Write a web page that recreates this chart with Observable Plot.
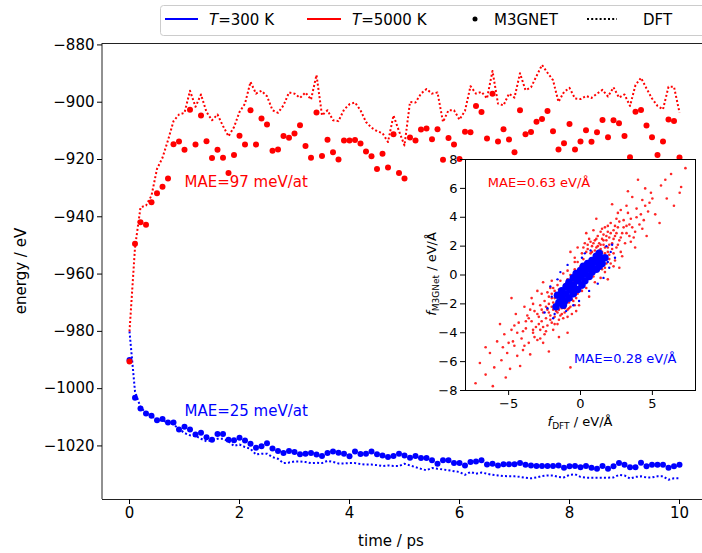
<!DOCTYPE html>
<html><head><meta charset="utf-8">
<script src="https://cdn.jsdelivr.net/npm/d3@7"></script>
<script src="https://cdn.jsdelivr.net/npm/@observablehq/plot@0.6"></script>
<style>
body{margin:0;background:#fff;overflow:hidden;}
#wrap{position:relative;width:702px;height:553px;font-family:"DejaVu Sans",sans-serif;overflow:hidden;}
#wrap svg{position:absolute;overflow:visible;}
</style></head><body><div id="wrap"></div>
<script>
// ---------- data ----------
const time = [0,0.1,0.2,0.3,0.4,0.5,0.6,0.7,0.8,0.9,1,1.1,1.2,1.3,1.4,1.5,1.6,1.7,1.8,1.9,2,2.1,2.2,2.3,2.4,2.5,2.6,2.7,2.8,2.9,3,3.1,3.2,3.3,3.4,3.5,3.6,3.7,3.8,3.9,4,4.1,4.2,4.3,4.4,4.5,4.6,4.7,4.8,4.9,5,5.1,5.2,5.3,5.4,5.5,5.6,5.7,5.8,5.9,6,6.1,6.2,6.3,6.4,6.5,6.6,6.7,6.8,6.9,7,7.1,7.2,7.3,7.4,7.5,7.6,7.7,7.8,7.9,8,8.1,8.2,8.3,8.4,8.5,8.6,8.7,8.8,8.9,9,9.1,9.2,9.3,9.4,9.5,9.6,9.7,9.8,9.9,10];

const m3gnet5000 = [-990.5,-949.4,-941.9,-942.8,-934.9,-931.8,-929.5,-926.6,-914.7,-913.7,-916.6,-902.6,-914.8,-904.6,-913.6,-919.5,-916.6,-919.4,-924.7,-918.4,-911.7,-914.8,-902.8,-914.8,-905.7,-907.8,-916.9,-916.5,-911.8,-912.4,-910.9,-908.0,-915.3,-919.4,-903.6,-918.8,-913.1,-917.5,-920.0,-913.4,-913.4,-913.2,-914.4,-917.2,-918.9,-923.3,-918.0,-922.8,-911.2,-924.7,-926.6,-912.3,-913.4,-909.5,-909.2,-912.9,-909.4,-920.1,-912.5,-914.8,-919.8,-910.3,-910.5,-901.3,-903.4,-912.7,-897.0,-913.7,-909.4,-913.0,-917.5,-902.8,-911.2,-910.4,-906.8,-905.9,-903.1,-910.1,-916.5,-914.3,-907.6,-916.5,-913.7,-909.8,-913.8,-910.5,-906.2,-912.2,-906.3,-907.3,-911.8,-919.2,-903.3,-902.7,-908.1,-912.2,-918.4,-913.7,-906.0,-906.6,-919.3];

const dft5000 = [-980.0,-950.8,-936.7,-936.1,-932.6,-923.3,-919.4,-913.3,-906.6,-904.3,-903.7,-896.0,-901.6,-897.3,-903.4,-906.3,-904.3,-908.3,-911.9,-908.7,-903.4,-900.5,-892.9,-897.0,-896.0,-897.9,-902.8,-903.7,-901.1,-896.6,-897.0,-898.5,-896.6,-899.1,-890.5,-904.6,-902.8,-906.3,-906.6,-902.6,-900.7,-900.1,-902.8,-906.9,-908.9,-910.1,-910.8,-913.9,-904.6,-910.1,-915.1,-899.9,-900.1,-897.0,-895.4,-897.0,-896.6,-906.9,-902.8,-902.8,-906.1,-903.0,-894.4,-897.0,-896.4,-898.7,-889.1,-900.5,-901.1,-897.0,-898.4,-889.9,-895.8,-894.8,-890.9,-887.0,-889.7,-892.3,-899.9,-896.4,-895.0,-898.7,-898.9,-897.8,-898.5,-897.0,-895.7,-898.0,-894.8,-898.4,-897.3,-901.3,-894.0,-891.5,-895.2,-898.7,-901.3,-902.5,-894.6,-894.6,-903.6];

const m3gnet300 = [-990.0,-1003.2,-1006.9,-1008.7,-1009.5,-1011.0,-1010.6,-1011.8,-1011.8,-1014.3,-1013.3,-1014.3,-1016.0,-1015.4,-1017.0,-1017.8,-1015.8,-1015.8,-1017.8,-1018.0,-1017.1,-1018.1,-1019.2,-1020.6,-1020.1,-1019.1,-1020.9,-1021.8,-1022.5,-1021.8,-1022.1,-1022.9,-1022.7,-1022.5,-1023.0,-1023.5,-1022.5,-1021.9,-1022.4,-1022.7,-1023.6,-1021.9,-1022.8,-1022.7,-1021.9,-1022.9,-1023.3,-1023.9,-1023.5,-1022.7,-1023.3,-1024.1,-1023.5,-1024.2,-1024.2,-1025.0,-1026.2,-1025.0,-1025.0,-1026.0,-1026.0,-1026.8,-1025.6,-1025.4,-1025.0,-1026.5,-1026.2,-1026.8,-1026.4,-1026.4,-1026.4,-1026.0,-1026.6,-1026.8,-1027.0,-1027.0,-1027.0,-1027.0,-1026.8,-1027.6,-1027.1,-1027.0,-1027.4,-1027.0,-1027.6,-1028.0,-1027.0,-1028.0,-1027.1,-1026.0,-1026.6,-1027.4,-1027.4,-1025.9,-1027.1,-1026.6,-1026.6,-1026.6,-1027.6,-1027.1,-1026.6];

const dft300 = [-980.0,-1001.0,-1006.5,-1008.5,-1009.5,-1011.0,-1011.0,-1012.0,-1012.5,-1014.0,-1015.5,-1016.3,-1016.5,-1017.5,-1018.4,-1018.0,-1017.5,-1017.5,-1018.4,-1020.0,-1019.5,-1020.4,-1021.0,-1023.0,-1022.7,-1022.7,-1023.9,-1024.5,-1026.0,-1025.8,-1025.4,-1025.4,-1025.6,-1026.0,-1025.9,-1026.0,-1025.2,-1025.6,-1026.1,-1026.1,-1026.0,-1026.0,-1026.3,-1026.5,-1026.5,-1026.7,-1027.0,-1026.8,-1027.0,-1027.0,-1026.2,-1026.8,-1027.4,-1028.0,-1028.5,-1027.7,-1028.0,-1028.2,-1028.5,-1028.8,-1029.1,-1030.1,-1029.1,-1029.7,-1029.3,-1029.7,-1030.1,-1030.3,-1030.5,-1030.6,-1030.6,-1030.8,-1031.1,-1031.3,-1031.0,-1030.5,-1030.3,-1030.3,-1030.8,-1031.0,-1030.1,-1029.9,-1030.8,-1031.1,-1031.1,-1031.1,-1031.1,-1031.1,-1031.0,-1030.1,-1030.3,-1031.4,-1030.8,-1030.6,-1031.0,-1031.0,-1030.6,-1030.6,-1031.8,-1031.3,-1031.3];

// force parity (f_DFT, f_M3GNet), eV/Å
const forces5000 = [[7.3,7.4],[6.9,5.7],[6.3,7.0],[6.0,5.3],[5.6,6.2],[5.2,4.2],[4.9,5.7],[4.7,4.4],[4.5,6.0],[4.3,5.2],[4.1,3.5],[3.9,4.6],[3.8,3.0],[3.6,5.4],[3.5,3.9],[3.4,2.7],[3.3,4.3],[3.2,3.4],[3.1,2.2],[3.0,3.8],[2.9,2.9],[2.8,4.5],[2.7,2.4],[2.6,3.3],[2.5,1.9],[2.5,3.9],[2.4,2.7],[2.3,3.1],[2.3,1.5],[2.2,2.2],[2.1,3.6],[2.0,2.6],[2.0,1.1],[1.9,3.0],[1.9,1.9],[1.8,2.4],[1.8,0.8],[1.7,3.3],[1.7,1.5],[1.6,2.1],[1.6,2.8],[1.5,1.2],[1.5,2.5],[1.4,1.8],[1.4,3.0],[1.3,2.2],[1.2,1.6],[1.2,2.7],[1.1,1.9],[1.0,2.4],[1.0,1.3],[0.9,3.1],[0.8,2.0],[0.7,1.5],[0.6,2.5],[0.5,1.8],[0.3,2.2],[0.1,1.5],[-0.2,1.9],[-0.4,1.2],[4.6,2.7],[3.8,1.9],[2.9,1.3],[5.5,3.6],[6.5,4.8],[2.2,4.9],[1.1,3.9],[0.4,2.9],[-0.7,1.6],[2.7,0.5],[3.3,5.8],[5.9,6.6],[7.0,6.1],[4.0,6.6],
[-7.3,-7.5],[-7.0,-6.1],[-6.6,-6.9],[-6.3,-5.4],[-6.0,-6.4],[-5.8,-4.6],[-5.5,-5.9],[-5.3,-4.1],[-5.1,-5.4],[-4.9,-6.5],[-4.8,-3.8],[-4.6,-4.9],[-4.4,-5.6],[-4.3,-3.3],[-4.1,-4.4],[-4.0,-5.2],[-3.8,-3.7],[-3.7,-2.8],[-3.6,-4.7],[-3.4,-3.2],[-3.3,-4.0],[-3.2,-2.5],[-3.1,-3.6],[-3.0,-4.5],[-2.9,-2.9],[-2.8,-2.1],[-2.8,-3.8],[-2.7,-3.2],[-2.6,-2.6],[-2.5,-4.1],[-2.5,-1.8],[-2.4,-3.0],[-2.3,-2.4],[-2.3,-3.5],[-2.2,-2.0],[-2.1,-2.8],[-2.0,-3.3],[-2.0,-1.6],[-1.9,-2.4],[-1.9,-3.8],[-1.8,-2.9],[-1.7,-2.1],[-1.7,-1.3],[-1.6,-2.6],[-1.6,-3.4],[-1.5,-1.9],[-1.4,-2.8],[-1.3,-2.3],[-1.2,-3.0],[-1.1,-2.6],[-1.0,-2.0],[-0.9,-2.9],[-0.8,-2.3],[-0.6,-2.7],[-0.4,-2.1],[-3.9,-2.2],[-4.5,-2.7],[-3.4,-1.6],[-2.6,-4.7],[-1.5,-4.3],[-0.9,-4.0],[-5.6,-3.4],[-6.6,-5.0],[-4.2,-6.3],[-3.5,-5.5],[-2.2,-5.3],[-0.7,-6.4],[-5.2,-7.1],[-6.1,-7.7],[-3.0,-1.1],[-2.1,-0.9],[-4.8,-1.6],
[0.0,0.6],[-0.5,-0.5],[0.8,0.2],[-0.9,0.3],[0.4,-0.9],[1.2,0.5],[-1.4,-0.4],[0.2,1.1],[-0.2,-1.3],[1.7,0.2],[-1.9,-0.9],[1.0,-0.5],[-0.6,-1.7],[1.4,-0.2],[-2.3,-1.2],[2.1,0.8],[-0.4,0.9],[0.6,-1.5],[-1.2,0.1],[0.9,1.0],[-1.1,-1.2],[1.9,-0.3],[-2.6,-0.5],[2.4,1.0],[-0.3,-2.5],
[-3.5,-2.4],[-3.3,-3.8],[-3.0,-2.7],[-2.9,-3.4],[-2.7,-2.4],[-2.6,-3.6],[-2.4,-2.2],[-2.4,-3.9],[-2.2,-2.6],[-2.2,-1.5],[-2.1,-3.1],[-2.0,-2.2],[-1.9,-1.9],[-1.8,-3.4],[-1.8,-1.6],[-1.7,-2.5],[-1.6,-1.8],[-1.5,-2.4],[-1.5,-3.1],[-1.4,-1.6],[-1.3,-2.7],[-1.2,-1.9],[-1.1,-2.3],[-1.0,-1.6],[-0.9,-2.4],[-0.8,-1.9],[-0.7,-2.2],[-0.5,-1.8],[-0.3,-1.6],[-0.1,-2.1],[-2.0,-0.4],[-2.7,-1.3],[-1.6,-0.7],[-3.3,-2.0],[-3.8,-3.2],[-4.0,-3.9],[-4.4,-4.0],[-4.7,-4.6],[-5.0,-4.7],[-5.4,-5.0],[-3.9,-4.9],[-3.2,-4.3],[-2.8,-4.4],[-4.6,-3.5],[-3.6,-3.0],
[3.4,3.5],[3.2,2.9],[3.0,3.3],[2.8,2.6],[2.7,3.7],[2.6,2.1],[2.5,2.9],[2.4,3.4],[2.3,2.5],[2.2,1.8],[2.1,2.9],[2.0,2.1],[1.9,1.6],[1.9,3.4],[1.8,2.7],[1.7,1.9],[1.6,2.4],[1.5,1.6],[1.5,3.2],[1.4,2.1],[1.3,1.7],[1.2,2.0],[1.1,2.5],[1.0,1.7],[0.9,2.2],[0.8,1.6],[0.7,2.3],[0.5,2.1],[0.4,1.6],[0.2,1.9],[2.3,0.6],[2.8,1.6],[1.7,0.5],[3.5,2.3],[3.6,3.3],[3.9,4.0],[4.2,4.2],[4.5,4.8],[4.8,5.0],[5.0,5.3],[3.7,2.6],[4.3,3.2],[3.2,4.8],[2.6,4.3],[4.4,3.8],
[-0.2,0.9],[0.3,-0.5],[-0.7,0.0],[0.6,0.7],[-1.0,-0.6],[1.3,0.9],[-1.5,-1.0],[1.5,0.4],[0.1,-1.1],[-0.4,0.4],[2.0,1.4],[-2.0,-1.3],[0.9,-0.1],[-0.9,-0.3],[1.8,1.1],[-1.8,-1.1]];

const forces300Core = [[-1.5,-1.9],[-1.3,-1.5],[-1.1,-1.8],[-1.3,-1.1],[-1.0,-1.3],[-0.8,-1.6],[-1.0,-0.8],[-0.7,-1.0],[-0.5,-1.3],[-0.8,-0.5],[-0.5,-0.7],[-0.2,-1.0],[-0.5,-0.2],[-0.2,-0.4],[0.1,-0.7],[-0.3,0.1],[0.0,-0.1],[0.3,-0.4],[0.0,0.3],[0.3,0.1],[0.6,-0.1],[0.2,0.6],[0.5,0.4],[0.8,0.2],[0.5,0.8],[0.8,0.6],[1.1,0.4],[0.8,1.0],[1.1,0.9],[1.3,0.6],[1.1,1.3],[1.4,1.1],[1.5,0.8],[-1.7,-2.2],[-1.2,-2.1],[-1.6,-1.4],[1.3,1.5],[1.7,1.2]];
const forces300Outer = [[-2.0,-1.5],[-1.8,-2.7],[2.1,1.6],[1.8,2.0],[-0.9,0.7],[1.2,-0.6],[-2.3,-2.3],[-1.0,-2.5],[0.7,1.7],[2.0,0.5],[-0.5,-2.1],[0.3,1.5],[-2.1,-0.8],[2.4,1.2],[-0.1,-1.8],[-1.6,-0.3],[1.6,-0.2],[0.6,-1.1],[-2.5,-2.6],[2.2,2.1],[-1.4,0.2],[0.1,1.2],[1.9,0.9],[-1.9,-3.0]];

const xTicks = [0,2,4,6,8,10];
const yTicks = [-880,-900,-920,-940,-960,-980,-1000,-1020];
const insetXTicks = [-5,0,5];
const insetYTicks = [-8,-6,-4,-2,0,2,4,6,8];

// ---------- build ----------
const font = '"DejaVu Sans", sans-serif';
const rows = (vals) => time.map((t,i)=>({t, e: vals[i]}));
const dash = "2,2.2";

const main = Plot.plot({
  width: 702, height: 553,
  marginLeft: 102, marginRight: 0, marginTop: 43, marginBottom: 54,
  x: {domain: [-0.5, 10.5], range: [101.5, 706.5]},
  y: {domain: [-1038.7, -879.5], range: [499, 43]},
  style: {fontFamily: font, fontSize: "15px", color: "#000", background: "transparent"},
  marks: [
    Plot.line(rows(dft300), {x: "t", y: "e", stroke: "blue", strokeWidth: 2, strokeDasharray: dash, strokeLinecap: "butt"}),
    Plot.dot(rows(m3gnet300), {x: "t", y: "e", r: 3, fill: "blue", stroke: null}),
    Plot.line(rows(dft5000), {x: "t", y: "e", stroke: "red", strokeWidth: 2, strokeDasharray: dash, strokeLinecap: "butt"}),
    Plot.dot(rows(m3gnet5000), {x: "t", y: "e", r: 3, fill: "red", stroke: null}),
    Plot.text(["MAE=97 meV/at"], {x: 1.0, y: -928, text: d=>d, fill: "red", textAnchor: "start", fontSize: 15}),
    Plot.text(["MAE=25 meV/at"], {x: 1.0, y: -1008, text: d=>d, fill: "blue", textAnchor: "start", fontSize: 15}),
    Plot.ruleY([-879.5], {stroke: "#222"}),
    Plot.ruleY([-1038.7], {stroke: "#222"}),
    Plot.ruleX([-0.5], {stroke: "#222"}),
    Plot.axisX(xTicks, {tickSize: 5, tickPadding: 3, fontSize: 15, label: null, tickFormat: "d"}),
    Plot.axisY(yTicks, {tickSize: 5, tickPadding: 3, fontSize: 15, label: null, tickFormat: "d"})
  ]
});
const wrap = document.getElementById("wrap");
main.style.left = "0px"; main.style.top = "0px";
wrap.appendChild(main);
const ms = d3.select(main);
ms.append("text").attr("x", 391).attr("y", 546).attr("text-anchor", "middle")
  .attr("font-size", 15).attr("font-family", font).text("time / ps");
ms.append("text").attr("transform", "translate(26,271) rotate(-90)").attr("text-anchor", "middle")
  .attr("font-size", 15).attr("font-family", font).text("energy / eV");

// inset
const P = d => d[0], Q = d => d[1];
const inset = Plot.plot({
  width: 280, height: 290,
  marginLeft: 45, marginRight: 5, marginTop: 9, marginBottom: 50,
  x: {domain: [-8, 8]}, y: {domain: [-8, 8]},
  style: {fontFamily: font, fontSize: "13px", color: "#000", background: "transparent"},
  marks: [
    Plot.frame({fill: "white", stroke: null}),
    Plot.dot(forces5000, {x: P, y: Q, r: 1.3, fill: "red", fillOpacity: 0.85, stroke: null}),
    Plot.dot(forces300Outer, {x: P, y: Q, r: 1.2, fill: "blue", stroke: null}),
    Plot.dot(forces300Core, {x: P, y: Q, r: 3.8, fill: "blue", stroke: null}),
    Plot.text(["MAE=0.63 eV/Å"], {x: -6.45, y: 6.35, text: d=>d, fill: "red", textAnchor: "start", fontSize: 13}),
    Plot.text(["MAE=0.28 eV/Å"], {x: -0.45, y: -5.8, text: d=>d, fill: "blue", textAnchor: "start", fontSize: 13}),
    Plot.frame({stroke: "#000"}),
    Plot.axisX(insetXTicks, {tickSize: 5, tickPadding: 3, fontSize: 13, label: null}),
    Plot.axisY(insetYTicks, {tickSize: 5, tickPadding: 3, fontSize: 13, label: null})
  ]
});
inset.style.left = "420px"; inset.style.top = "150px";
wrap.appendChild(inset);
const is = d3.select(inset);
const xl = is.append("text").attr("x", 160).attr("y", 276).attr("text-anchor", "middle")
  .attr("font-size", 13).attr("font-family", font);
xl.append("tspan").attr("font-style", "italic").text("f");
xl.append("tspan").attr("font-size", 9).attr("dy", 3).text("DFT");
xl.append("tspan").attr("dy", -3).text(" / eV/Å");
const yl = is.append("text").attr("transform", "translate(16,124) rotate(-90)").attr("text-anchor", "middle")
  .attr("font-size", 13).attr("font-family", font);
yl.append("tspan").attr("font-style", "italic").text("f");
yl.append("tspan").attr("font-size", 9).attr("dy", 3).text("M3GNet");
yl.append("tspan").attr("dy", -3).text(" / eV/Å");

// legend
const leg = d3.select(wrap).append("svg").attr("width", 702).attr("height", 40)
  .style("left", "0px").style("top", "0px");
leg.append("rect").attr("x", 160.5).attr("y", 5.5).attr("width", 600).attr("height", 30).attr("rx", 3)
  .attr("fill", "white").attr("stroke", "#ccc");
const ly = 19;
leg.append("line").attr("x1", 165).attr("x2", 198).attr("y1", ly).attr("y2", ly).attr("stroke", "blue").attr("stroke-width", 2);
leg.append("line").attr("x1", 307).attr("x2", 341).attr("y1", ly).attr("y2", ly).attr("stroke", "red").attr("stroke-width", 2);
leg.append("circle").attr("cx", 475).attr("cy", ly).attr("r", 2.5).attr("fill", "black");
leg.append("line").attr("x1", 587).attr("x2", 617).attr("y1", ly).attr("y2", ly).attr("stroke", "black").attr("stroke-width", 2).attr("stroke-dasharray", dash);
const legText = (x, parts) => {
  const t = leg.append("text").attr("x", x).attr("y", ly + 5.5).attr("font-size", 15).attr("font-family", font);
  parts.forEach(([s, it]) => t.append("tspan").attr("font-style", it ? "italic" : "normal").text(s));
};
legText(209, [["T", true], ["=300 K", false]]);
legText(352, [["T", true], ["=5000 K", false]]);
legText(494, [["M3GNET", false]]);
legText(643, [["DFT", false]]);
</script></body></html>
